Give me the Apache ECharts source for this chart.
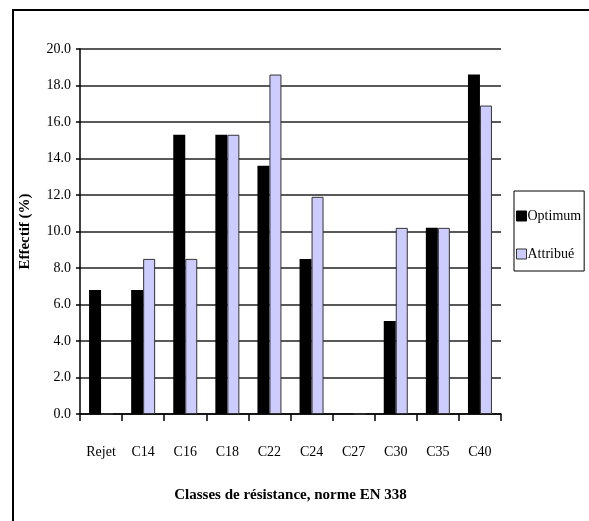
<!DOCTYPE html>
<html>
<head>
<meta charset="utf-8">
<script src="https://cdn.jsdelivr.net/npm/echarts@6/dist/echarts.min.js"></script>
<style>
html,body{margin:0;padding:0;background:#fff;}
#c{width:589px;height:521px;}
</style>
</head>
<body>
<div id="c"></div>
<script>
const categories = ['Rejet','C14','C16','C18','C22','C24','C27','C30','C35','C40'];
const optimum = [6.8, 6.8, 15.3, 15.3, 13.6, 8.5, 0, 5.1, 10.2, 18.6];
const attribue = [0, 8.5, 8.5, 15.3, 18.6, 11.9, 0, 10.2, 10.2, 16.9];
const seriesNames = ['Optimum', 'Attribué'];
const yTicks = {min: 0, max: 20, interval: 2};

const font = 'Liberation Serif';
const chart = echarts.init(document.getElementById('c'), null, {renderer: 'canvas'});
chart.setOption({
  animation: false,
  backgroundColor: '#fff',
  grid: {left: 80, right: 88, top: 49, bottom: 107, containLabel: false},
  legend: {
    orient: 'vertical',
    left: 514, top: 191,
    padding: [18, 3, 10, 2],
    itemGap: 24,
    itemWidth: 10, itemHeight: 10,
    borderColor: '#000', borderWidth: 1,
    backgroundColor: '#fff',
    textStyle: {fontFamily: font, fontSize: 14, color: '#000', padding: [0,0,0,-4]},
    data: [
      {name: seriesNames[0], icon: 'rect', itemStyle: {color: '#000', borderColor: '#000', borderWidth: 1}},
      {name: seriesNames[1], icon: 'rect', itemStyle: {color: '#CCCCFF', borderColor: '#333', borderWidth: 1}}
    ]
  },
  xAxis: {
    type: 'category',
    data: categories,
    name: 'Classes de résistance, norme EN 338',
    nameLocation: 'middle',
    nameGap: 74,
    nameTextStyle: {fontFamily: font, fontSize: 15, fontWeight: 'bold', color: '#000'},
    axisLine: {lineStyle: {color: '#000', width: 1.5}},
    axisTick: {show: true, length: 7, alignWithLabel: false, lineStyle: {color: '#000', width: 1.5}},
    axisLabel: {fontFamily: font, fontSize: 14, color: '#000', margin: 31},
    splitLine: {show: false}
  },
  yAxis: {
    type: 'value',
    min: yTicks.min, max: yTicks.max, interval: yTicks.interval,
    name: 'Effectif (%)',
    nameLocation: 'middle',
    nameGap: 47,
    nameRotate: 90,
    nameTextStyle: {fontFamily: font, fontSize: 15, fontWeight: 'bold', color: '#000'},
    axisLine: {show: true, lineStyle: {color: '#000', width: 1.5}},
    axisTick: {show: true, length: 4, lineStyle: {color: '#000', width: 1.5}},
    axisLabel: {fontFamily: font, fontSize: 14, color: '#000', margin: 9,
      formatter: v => v.toFixed(1)},
    splitLine: {show: true, lineStyle: {color: '#222', width: 1.5}}
  },
  series: [
    {name: seriesNames[0], type: 'bar', data: optimum, barWidth: 12, barGap: '0%',
     itemStyle: {color: '#000', borderColor: '#000', borderWidth: 0}},
    {name: seriesNames[1], type: 'bar', data: attribue, barWidth: 12, barGap: '0%',
     itemStyle: {color: '#CCCCFF', borderColor: '#333', borderWidth: 1}}
  ],
  graphic: [
    {type: 'line', shape: {x1: 13, y1: 10, x2: 13, y2: 521}, style: {stroke: '#000', lineWidth: 2}},
    {type: 'line', shape: {x1: 12, y1: 10, x2: 589, y2: 10}, style: {stroke: '#000', lineWidth: 2}}
  ]
});
</script>
</body>
</html>
